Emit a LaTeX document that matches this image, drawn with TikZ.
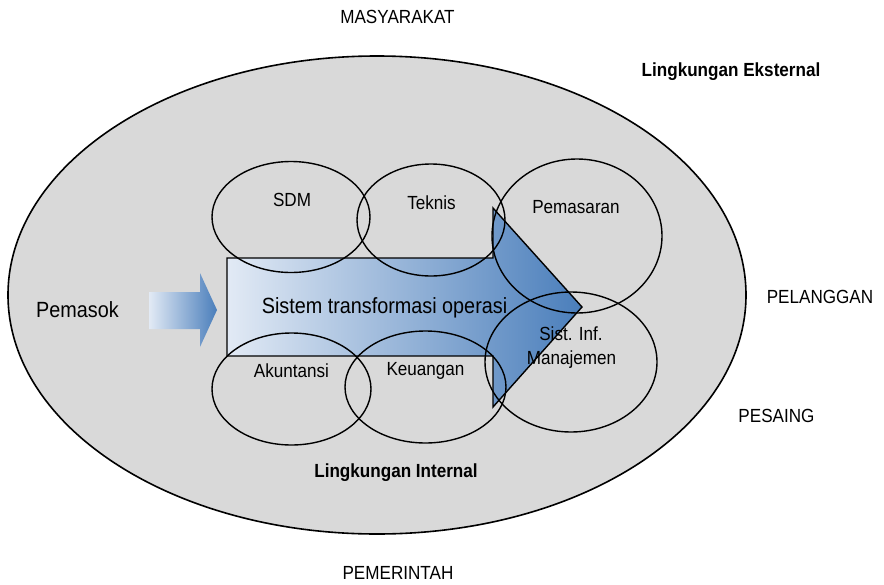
\documentclass[tikz,border=0pt]{standalone}
\usepackage{fontspec}
\setmainfont{Liberation Sans}[FakeStretch=0.9]
\usetikzlibrary{shapes.geometric}
\definecolor{envgray}{HTML}{D9D9D9}
\definecolor{arrowL}{HTML}{E2EAF5}
\definecolor{arrowR}{HTML}{4A7EBB}
\tikzset{
  unit/.style={draw=black, line width=1.4pt, ellipse, inner sep=0pt},
  lbl/.style={font=\fontsize{19}{22}\selectfont, anchor=base, inner sep=0pt},
  blbl/.style={font=\fontsize{19}{22}\selectfont\bfseries, anchor=base, inner sep=0pt},
  biglbl/.style={font=\fontsize{22}{25}\selectfont, anchor=base, inner sep=0pt},
}
\begin{document}
\begin{tikzpicture}[x=1pt,y=-1pt]
\useasboundingbox (0,0) rectangle (884,584);
% outer environment
\node[ellipse, draw=black, line width=1.6pt, fill=envgray, inner sep=0pt,
      minimum width=738pt, minimum height=478pt] (ext) at (377,295) {};
% supplier arrow
\path[left color=arrowL, right color=arrowR]
  (149,292) -- (200,292) -- (200,273) -- (217,310) -- (200,347) -- (200,329) -- (149,329) -- cycle;
\coordinate (supArrow) at (183,310);
% big transformation arrow
\draw[line width=1.4pt, line join=miter, left color=arrowL, right color=arrowR]
  (227,258) -- (493,258) -- (493,208) -- (582,307) -- (493,407) -- (493,356) -- (227,356) -- cycle;
% functional units
\node[unit, minimum width=158pt, minimum height=111pt] (sdm) at (291,217) {};
\node[unit, minimum width=148pt, minimum height=112pt] (tek) at (431,220) {};
\node[unit, minimum width=170pt, minimum height=154pt] (pem) at (577,236) {};
\node[unit, minimum width=172pt, minimum height=140pt] (sim) at (571,362) {};
\node[unit, minimum width=159pt, minimum height=112pt] (aku) at (291.5,389) {};
\node[unit, minimum width=161pt, minimum height=112pt] (keu) at (425.5,387) {};
% labels
\node[lbl] (tMas) at (397.5,23) {MASYARAKAT};
\node[blbl] (tEks) at (731,76) {Lingkungan Eksternal};
\node[lbl] (tPel) at (820,303) {PELANGGAN};
\node[lbl] (tPes) at (776.5,422) {PESAING};
\node[lbl] (tPeme) at (398,579) {PEMERINTAH};
\node[biglbl] (tPemasok) at (77.5,317) {Pemasok};
\node[biglbl] (tSis) at (384.5,313) {Sistem transformasi operasi};
\node[lbl] (tSdm) at (292,206) {SDM};
\node[lbl] (tTek) at (431.5,209) {Teknis};
\node[lbl] (tPem) at (576,213) {Pemasaran};
\node[lbl] (tSim1) at (571,340) {Sist. Inf.};
\node[lbl] (tSim2) at (571.5,364) {Manajemen};
\node[lbl] (tAku) at (291.5,377) {Akuntansi};
\node[lbl] (tKeu) at (425.5,375) {Keuangan};
\node[blbl] (tInt) at (396,477) {Lingkungan Internal};
\end{tikzpicture}
\end{document}
